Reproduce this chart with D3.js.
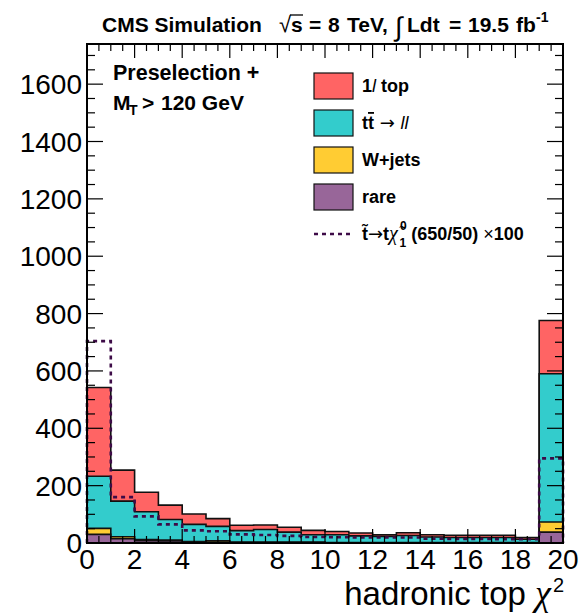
<!DOCTYPE html>
<html>
<head>
<meta charset="utf-8">
<script src="https://cdn.jsdelivr.net/npm/d3@7"></script>
<style>
  html, body { margin: 0; padding: 0; background: #fff; }
  svg text { font-family: "Liberation Sans", Arial, Helvetica, sans-serif; }
</style>
</head>
<body>
<svg id="chart" width="580" height="614"></svg>
<script>
// Bin lower edges of the hadronic top chi2 histogram (unit-width bins, last bin holds overflow)
const binLow = [0, 1, 2, 3, 4, 5, 6, 7, 8, 9, 10, 11, 12, 13, 14, 15, 16, 17, 18, 19];
const binWidth = 1;

// Per-process event yields in each bin (stack order bottom -> top)
const rare    = [30, 15, 8, 7, 3, 3, 2, 2, 2, 2, 1, 1, 1, 1, 1, 1, 1, 1, 1, 38];
const wjets   = [21, 7, 4, 3, 2, 5, 1, 1, 1, 1, 1, 1, 1, 1, 1, 1, 1, 1, 1, 35];
const ttll    = [182, 124, 97, 72, 60, 50, 40, 44, 35, 26, 27, 23, 21, 24, 19, 17, 17, 17, 11, 517];
const oneLep  = [309, 108, 68, 50, 36, 27, 19, 16, 17, 15, 11, 10, 6, 10, 8, 8, 8, 8, 6, 186];

// Signal stop -> t chi0 (650/50), scaled by 100
const signal  = [704, 160, 93, 65, 44, 41, 30, 28, 25, 21, 20, 19, 19, 19, 15, 14, 14, 13, 13, 295];

// Axis ticks
const yTicks = [0, 200, 400, 600, 800, 1000, 1200, 1400, 1600];
const xTicks = [0, 2, 4, 6, 8, 10, 12, 14, 16, 18, 20];

const processes = [
  { key: "rare",   values: rare,   color: "#986699" },
  { key: "wjets",  values: wjets,  color: "#ffcc33" },
  { key: "ttll",   values: ttll,   color: "#33cccc" },
  { key: "oneLep", values: oneLep, color: "#ff6464" }
];

const W = 580, H = 614;
const margin = { left: 87, right: 17, top: 44, bottom: 71 };
const svg = d3.select("#chart");

const x = d3.scaleLinear().domain([0, 20]).range([margin.left, W - margin.right]);
const y = d3.scaleLinear().domain([0, 1740]).range([H - margin.bottom, margin.top]);

// Stacked layers
const rows = binLow.map((b, i) => {
  const r = { lo: b };
  processes.forEach(p => r[p.key] = p.values[i]);
  return r;
});
const stack = d3.stack().keys(processes.map(p => p.key));
const layers = stack(rows);

// Step outline points for a histogram given per-bin heights
function stepPoints(vals) {
  const pts = [[binLow[0], 0]];
  vals.forEach((v, i) => {
    pts.push([binLow[i], v]);
    pts.push([binLow[i] + binWidth, v]);
  });
  pts.push([binLow[binLow.length - 1] + binWidth, 0]);
  return pts;
}
const line = d3.line().x(d => x(d[0])).y(d => y(d[1]));

const g = svg.append("g");
// Draw from the top of the stack downward, each filled from zero (THStack style)
for (let li = layers.length - 1; li >= 0; li--) {
  const tops = layers[li].map(d => d[1]);
  const pts = stepPoints(tops);
  g.append("path")
    .attr("d", line(pts) + "Z")
    .attr("fill", processes[li].color)
    .attr("stroke", "#111")
    .attr("stroke-width", 1.6)
    .attr("stroke-linejoin", "miter");
}

// Signal dashed step line
g.append("path")
  .attr("d", line(stepPoints(signal)))
  .attr("fill", "none")
  .attr("stroke", "#3d0b47")
  .attr("stroke-width", 2.6)
  .attr("stroke-dasharray", "4,4");

// Frame and ticks
const x0 = x(0), x1 = x(20), y0 = y(0), yTop = margin.top;
const axes = svg.append("g").attr("stroke", "#000").attr("stroke-width", 1.2);

// y ticks (left and right), minor every 50
const yMinor = d3.range(0, 1741, 50);
yMinor.forEach(v => {
  const major = v % 200 === 0;
  const len = major ? 16 : 8;
  axes.append("line").attr("x1", x0).attr("x2", x0 + len).attr("y1", y(v)).attr("y2", y(v));
  axes.append("line").attr("x1", x1).attr("x2", x1 - len).attr("y1", y(v)).attr("y2", y(v));
});
// x ticks (bottom and top), minor every 0.5
const xMinor = d3.range(0, 20.01, 0.5);
xMinor.forEach(v => {
  const major = Math.abs(v % 2) < 1e-6;
  const len = major ? 14 : 7;
  axes.append("line").attr("x1", x(v)).attr("x2", x(v)).attr("y1", y0).attr("y2", y0 - len);
  axes.append("line").attr("x1", x(v)).attr("x2", x(v)).attr("y1", yTop).attr("y2", yTop + len);
});
svg.append("rect")
  .attr("x", x0).attr("y", yTop)
  .attr("width", x1 - x0).attr("height", y0 - yTop)
  .attr("fill", "none").attr("stroke", "#000").attr("stroke-width", 2);

// Tick labels
svg.append("g").selectAll("text").data(yTicks).join("text")
  .attr("x", x0 - 5).attr("y", d => y(d) + 10)
  .attr("text-anchor", "end")
  .attr("font-size", 28)
  .text(d => d);
svg.append("g").selectAll("text").data(xTicks).join("text")
  .attr("x", d => x(d)).attr("y", y0 + 26)
  .attr("text-anchor", "middle")
  .attr("font-size", 28)
  .text(d => d);

// Axis title
const xt = svg.append("text")
  .attr("x", x1 + 1).attr("y", 605)
  .attr("text-anchor", "end")
  .attr("font-size", 33);
xt.append("tspan").text("hadronic top ");
xt.append("tspan").attr("font-family", "Liberation Serif").attr("font-style", "italic").attr("font-size", 36).text("χ");
xt.append("tspan").attr("font-size", 20).attr("dx", 2).attr("dy", -13).text("2");

// Header: "CMS Simulation" and the energy / luminosity statement
const hdrY = 32;
svg.append("text").attr("x", 102).attr("y", hdrY)
  .attr("font-size", 21).attr("font-weight", "bold").text("CMS Simulation");
const hdr = svg.append("g").attr("font-size", 21).attr("font-weight", "bold");
const hdrPieces = [
  { t: "√", x: 279, w: "normal", s: 22 },
  { t: "s", x: 291 },
  { t: "=", x: 309 },
  { t: "8", x: 328 },
  { t: "TeV,", x: 347 },
  { t: "∫", x: 395, w: "normal", s: 27, dy: 4 },
  { t: "Ldt", x: 407 },
  { t: "=", x: 449 },
  { t: "19.5", x: 468 },
  { t: "fb", x: 516 },
  { t: "-1", x: 536, s: 14, dy: -10 }
];
hdrPieces.forEach(p => {
  hdr.append("text")
    .attr("x", p.x).attr("y", hdrY + (p.dy || 0))
    .attr("font-weight", p.w || "bold")
    .attr("font-size", p.s || 21)
    .text(p.t);
});
// radical bar over "s"
hdr.append("line").attr("x1", 290).attr("x2", 303).attr("y1", 15).attr("y2", 15)
  .attr("stroke", "#000").attr("stroke-width", 1.3);

// Selection label
svg.append("text").attr("x", 113).attr("y", 80)
  .attr("font-size", 21.5).attr("font-weight", "bold").text("Preselection +");
const sel = svg.append("g").attr("font-weight", "bold");
sel.append("text").attr("x", 113).attr("y", 110).attr("font-size", 21).text("M");
sel.append("text").attr("x", 129).attr("y", 115).attr("font-size", 14).text("T");
sel.append("text").attr("x", 142).attr("y", 110).attr("font-size", 21).text(">");
sel.append("text").attr("x", 161).attr("y", 110).attr("font-size", 21).text("120 GeV");

// Legend
const legendItems = [
  { color: "#ff6464" },
  { color: "#33cccc" },
  { color: "#ffcc33" },
  { color: "#986699" }
];
const lg = svg.append("g");
const rowY = [86, 123, 160, 197];
legendItems.forEach((it, i) => {
  lg.append("rect").attr("x", 314).attr("y", rowY[i] - 13).attr("width", 39).attr("height", 26)
    .attr("fill", it.color).attr("stroke", "#111").attr("stroke-width", 1.2);
});
function legendText(i) {
  return lg.append("text").attr("x", 362).attr("y", rowY[i] + 6)
    .attr("font-size", 18).attr("font-weight", "bold");
}
const l0 = legendText(0);
l0.append("tspan").text("1");
l0.append("tspan").attr("font-weight", "normal").attr("font-style", "italic").text("l");
l0.append("tspan").text(" top");
const l1 = legendText(1);
l1.append("tspan").text("t");
l1.append("tspan").attr("text-decoration", "overline").text("t");
l1.append("tspan").attr("font-weight", "normal").attr("font-family", "DejaVu Sans").text(" → ");
l1.append("tspan").attr("font-weight", "normal").attr("font-style", "italic").text("ll");
legendText(2).text("W+jets");
legendText(3).text("rare");

const sigY = 234;
lg.append("line").attr("x1", 314).attr("x2", 353).attr("y1", sigY).attr("y2", sigY)
  .attr("stroke", "#3d0b47").attr("stroke-width", 2.6).attr("stroke-dasharray", "4,4");
const l4 = lg.append("text").attr("x", 362).attr("y", sigY + 6)
  .attr("font-size", 18).attr("font-weight", "bold");
l4.append("tspan").text("t\u0303");
l4.append("tspan").attr("font-weight", "normal").attr("font-family", "DejaVu Sans").text("→");
l4.append("tspan").text("t");
l4.append("tspan").attr("font-weight", "normal").attr("font-family", "Liberation Serif").attr("font-style", "italic").attr("font-size", 20).text("χ\u0303");
l4.append("tspan").attr("font-size", 12).attr("dx", 2).attr("dy", -10).text("0");
l4.append("tspan").attr("font-size", 12).attr("dx", -7).attr("dy", 17).text("1");
l4.append("tspan").attr("dy", -7).text(" (650/50) ");
l4.append("tspan").attr("font-weight", "normal").text("×");
l4.append("tspan").text("100");
</script>
</body>
</html>
